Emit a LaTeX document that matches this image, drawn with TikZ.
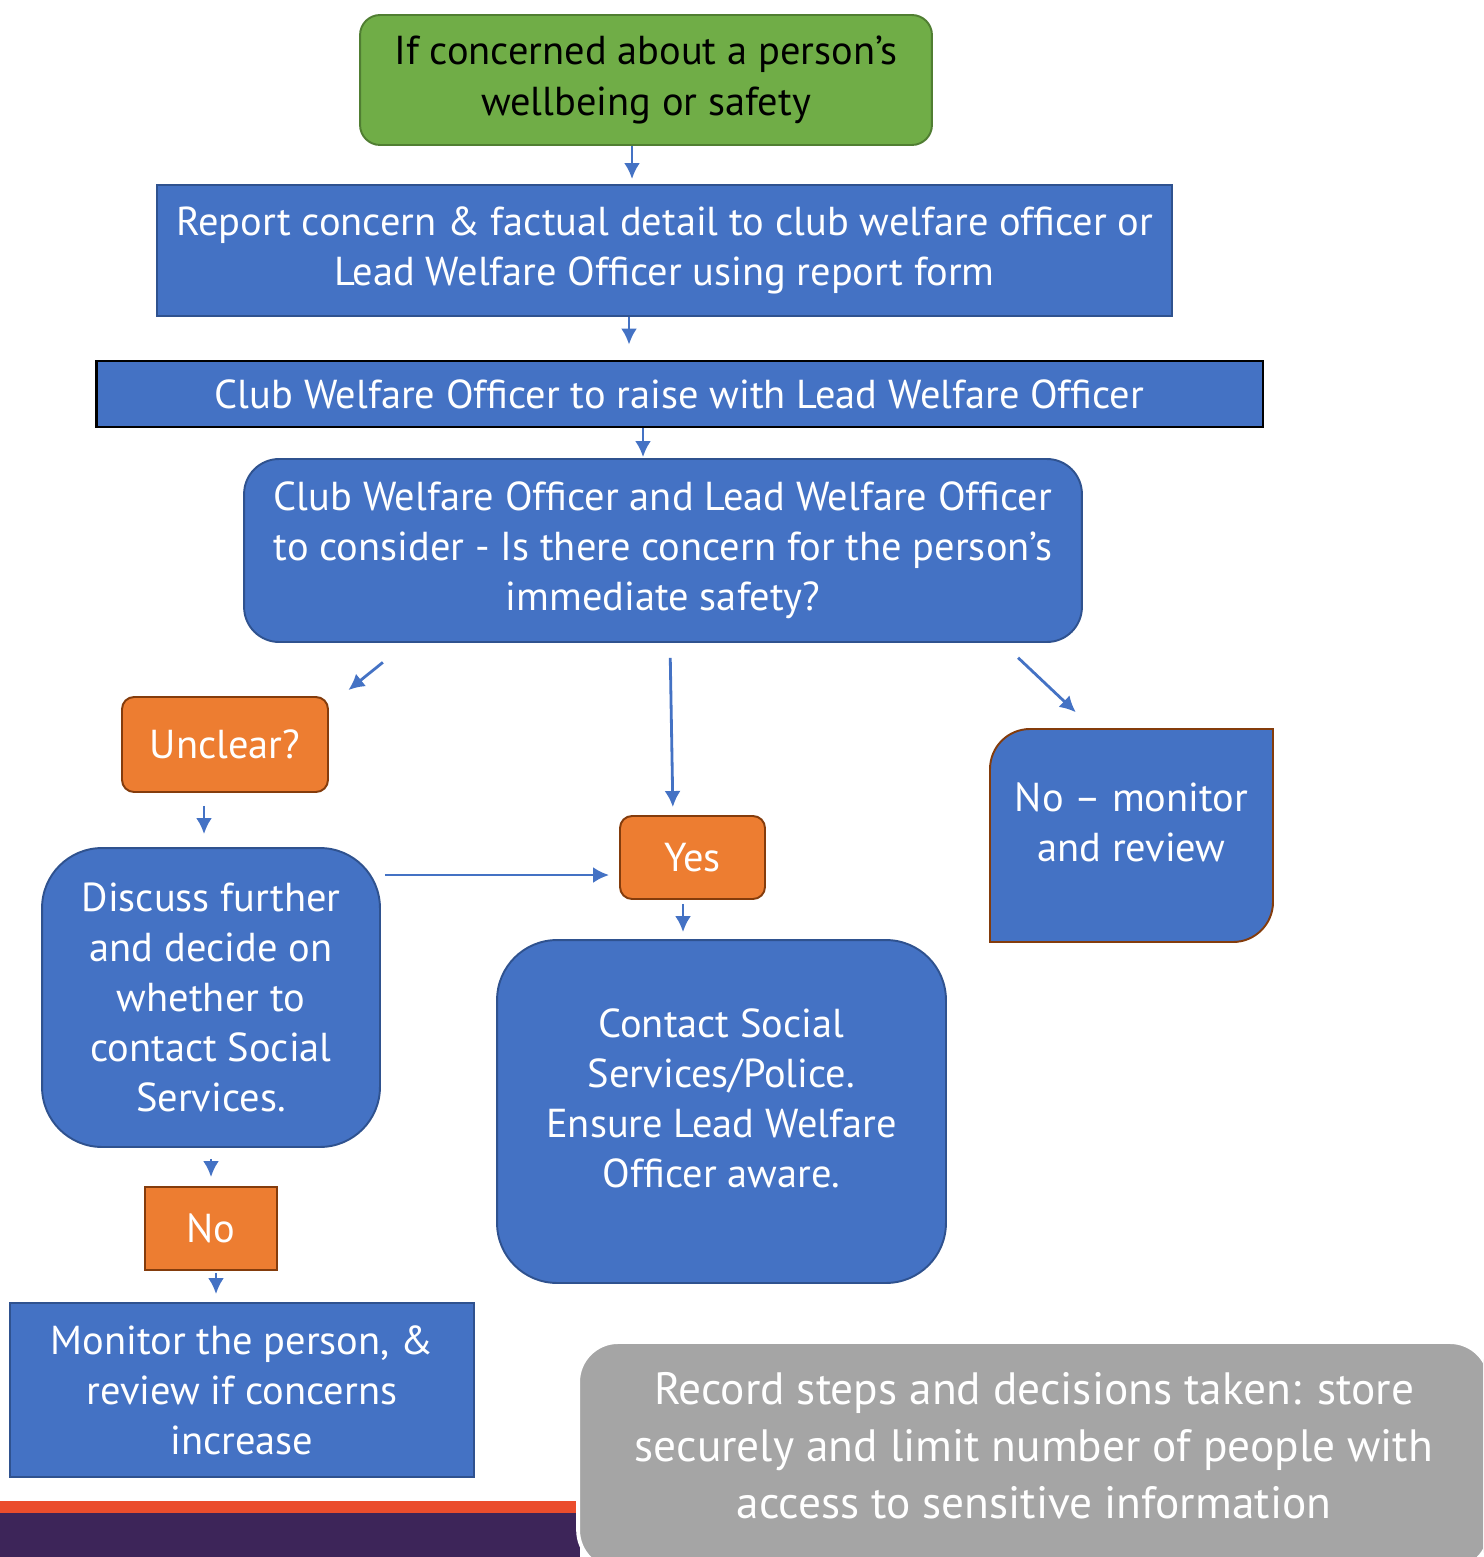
\documentclass[tikz,border=0pt]{standalone}
\usepackage{fontspec}
\setmainfont{PT Sans}
\usepackage{tikz}
\usetikzlibrary{positioning}
\usetikzlibrary{arrows.meta}
\definecolor{boxblue}{HTML}{4472C4}
\definecolor{blueline}{HTML}{2F528F}
\definecolor{boxgreen}{HTML}{70AD47}
\definecolor{greenline}{HTML}{507E32}
\definecolor{boxorange}{HTML}{ED7D31}
\definecolor{brownline}{HTML}{843C0C}
\definecolor{boxgray}{HTML}{A5A5A5}
\definecolor{barred}{HTML}{EB4D2D}
\definecolor{barpurple}{HTML}{3D2559}

\begin{document}
\begin{tikzpicture}[x=0.02cm,y=-0.02cm,
		box/.style={draw=blueline, fill=boxblue, line width=1.1pt, text=white, align=center, inner sep=0pt, font=\fontsize{23}{28.5}\selectfont},
		choice/.style={box, draw=brownline, fill=boxorange, rounded corners=0.24cm},
		arr/.style={draw=boxblue, line width=1.6pt, -{Latex[length=0.32cm,width=0.32cm]}}]
				\useasboundingbox (0,0) rectangle (1483,1557);
				\clip (0,0) rectangle (1483,1557);
				
				% bottom bar
				\fill[barred] (0,1501) rectangle (580,1513);
				\fill[barpurple] (0,1513) rectangle (580,1557);
				
				\node[box, draw=greenline, fill=boxgreen, text=black, rounded corners=0.4cm, minimum width=11.44cm, minimum height=2.6cm] (green) at (646,80) {If concerned about a person’s\\wellbeing or safety};
				\node[box, minimum width=20.3cm, minimum height=2.62cm] (report) at (664.5,250.5) {Report concern \& factual detail to club welfare officer or\\Lead Welfare Officer using report form};
				\node[box, draw=black, line width=1.6pt, minimum width=23.34cm, minimum height=1.32cm] (raise) at (679.5,394) {Club Welfare Officer to raise with Lead Welfare Officer};
				\node[box, rounded corners=0.7cm, minimum width=16.76cm, minimum height=3.66cm] (consider) at (663,550.5) {Club Welfare Officer and Lead Welfare Officer\\to consider - Is there concern for the person’s\\immediate safety?};
				\node[choice, minimum width=4.12cm, minimum height=1.9cm] (unclear) at (225,744.5) {Unclear?};
				\node[choice, minimum width=2.9cm, minimum height=1.66cm] (yes) at (692.5,857.5) {Yes};
				\node[box, rounded corners=1.2cm, minimum width=6.76cm, minimum height=5.98cm] (discuss) at (211,997.5) {Discuss further\\and decide on\\whether to\\contact Social\\Services.};
				\node[box, rounded corners=1.2cm, minimum width=8.98cm, minimum height=6.86cm] (contact) at (721.5,1111.5) {Contact Social\\Services/Police.\\Ensure Lead Welfare\\Officer aware.\\[-0.48cm]};
				
				% box rounded at two corners only
				\filldraw[draw=brownline, fill=boxblue, line width=1.1pt] (990,942) -- (990,769) arc[start angle=180, end angle=270, radius=40] -- (1273,729) -- (1273,902) arc[start angle=0, end angle=90, radius=40] -- cycle;
				\node[box, draw=none, fill=none, minimum width=5.66cm, minimum height=4.26cm] (nomon) at (1131.5,835.5) {No – monitor\\and review\\[-0.46cm]};
				
				\node[choice, rounded corners=0pt, minimum width=2.64cm, minimum height=1.66cm] (no) at (211,1228.5) {No};
				\node[box, minimum width=9.28cm, minimum height=3.48cm] (monitor) at (242,1390) {Monitor the person, \&\\review if concerns\\increase};
				
				\node[box, draw=white, line width=2.2pt, fill=boxgray, rounded corners=0.8cm, minimum width=18.24cm, minimum height=4.56cm, font=\fontsize{25.8}{32.4}\selectfont] (record) at (1034,1456) {Record steps and decisions taken: store\\securely and limit number of people with\\access to sensitive information\\[-0.7cm]};
				
				\draw[arr, shorten >=0.1cm] ([xshift=-0.28cm]green.south) -- ([xshift=-0.28cm]green.south |- report.north);
				\draw[arr, shorten >=0.3cm] ([xshift=-0.71cm]report.south) -- ([xshift=-0.71cm]report.south |- raise.north);
				\draw[arr, shorten >=0.02cm] ([xshift=-0.4cm]consider.north |- raise.south) -- ([xshift=-0.4cm]consider.north);
				\draw[arr, shorten <=0.62cm, shorten >=0.19cm] ([xshift=-5.12cm]consider.south) -- ([xshift=2.32cm]unclear.north);
				\draw[arr, shorten <=0.3cm, shorten >=0.16cm] ([xshift=0.14cm]consider.south) -- ([xshift=-0.39cm]yes.north);
				\draw[arr, shorten <=0.43cm, shorten >=0.46cm] ([xshift=6.79cm]consider.south) -- ([xshift=-0.78cm]nomon.north);
				\draw[arr, shorten <=0.26cm, shorten >=0.26cm] ([xshift=-0.42cm]unclear.south) -- ([xshift=-0.42cm]unclear.south |- discuss.north);
				\draw[arr, shorten <=0.08cm, shorten >=0.2cm] ([yshift=2.45cm]discuss.east) -- ([yshift=2.45cm]discuss.east -| yes.west);
				\draw[arr, shorten <=0.08cm, shorten >=0.14cm] ([xshift=-0.19cm]yes.south) -- ([xshift=-0.19cm]yes.south |- contact.north);
				\draw[arr, shorten <=0.22cm, shorten >=0.18cm] (discuss.south) -- (no.north);
				\draw[arr, shorten <=0.04cm, shorten >=0.16cm] ([xshift=0.1cm]no.south) -- ([xshift=0.1cm]no.south |- monitor.north);
			\end{tikzpicture}
\end{document}
